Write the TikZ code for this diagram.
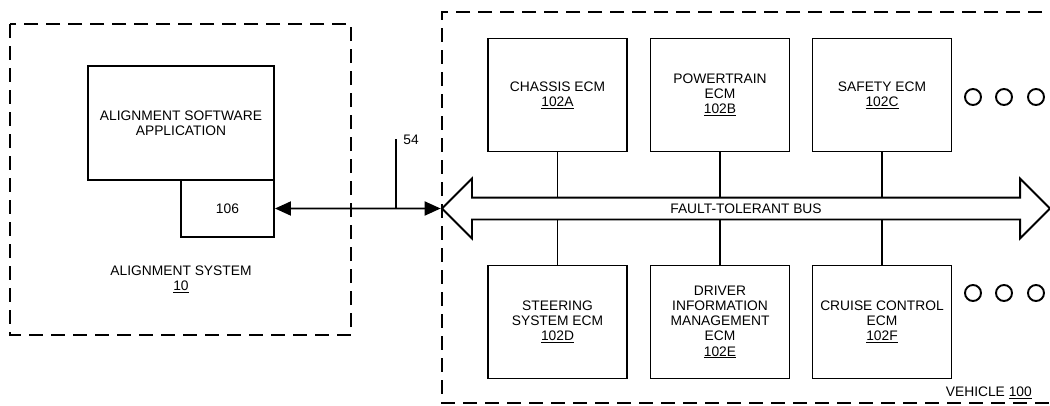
\documentclass[tikz,border=0pt]{standalone}
\usepackage{fontspec}
\setmainfont{Liberation Sans}
\usepackage{tikz}
\usetikzlibrary{arrows.meta,positioning,shapes.arrows}
\tikzset{
  % Base unit box. Patent drawing: black outline, nothing else.
  pat/box/.style={
    draw=black, fill=white, line width=1.9pt, align=center,
    font=\fontsize{13.8}{15.2}\selectfont, inner sep=2pt, text=black
  },
  % System boundary, dashed.
  pat/frame/.style={
    draw=black, line width=1.8pt, dash pattern=on 14pt off 8pt
  },
  % Plain solid stub between a unit and the bus.
  pat/link/.style={
    draw=black, line width=1.9pt
  },
  % Free text: reference numerals and system names.
  pat/label/.style={
    font=\fontsize{13.8}{15.2}\selectfont, text=black, inner sep=1pt, align=center
  },
}
\newcommand{\refnum}[1]{\underline{#1}}

\begin{document}
\begin{tikzpicture}[x=1pt, y=-1pt,
  ecm/.style={pat/box, minimum width=139pt, minimum height=113pt},
  app/.style={pat/box, minimum width=186pt, minimum height=114pt},
  port/.style={pat/box, minimum width=93pt, minimum height=57pt},
  dot/.style={draw=black, line width=1.9pt, circle, minimum size=16pt, inner sep=0pt},
  busarr/.style={pat/box, fill=none, double arrow, double arrow head extend=19pt,
                 minimum height=608pt, text height=9.5pt, text depth=0pt,
                 inner xsep=0pt, inner ysep=5.25pt},
  bi/.style={{Triangle[length=16pt,width=14pt]}-{Triangle[length=16pt,width=14pt]},
             draw=black, line width=1.9pt}]

\useasboundingbox (0,0) rectangle (1050,405);

\begin{scope}
  \draw[pat/frame] (10,24) rectangle (351,335);
  \node[app]  (app)  at (181,123)   {ALIGNMENT SOFTWARE\\APPLICATION};
  \node[port] (port) at (227.5,208.5) {106};
  \node[pat/label] (asys) at (181,279) {ALIGNMENT SYSTEM\\\refnum{10}};
\end{scope}

\begin{scope}
  \draw[pat/frame] (1064,12) -| (442,403) -- (1064,403);
  \node[busarr] (bus) at (746,208.5) {FAULT-TOLERANT BUS};
  \node[ecm] (cha) at (557.5,95)  {CHASSIS ECM\\\refnum{102A}};
  \node[ecm] (pwt) at (720,95)    {POWERTRAIN\\ECM\\\refnum{102B}};
  \node[ecm] (saf) at (882,95)    {SAFETY ECM\\\refnum{102C}};
  \node[ecm] (ste) at (557.5,322) {STEERING\\SYSTEM ECM\\\refnum{102D}};
  \node[ecm] (dri) at (720,322)   {DRIVER\\INFORMATION\\MANAGEMENT\\ECM\\\refnum{102E}};
  \node[ecm] (cru) at (882,322)   {CRUISE CONTROL\\ECM\\\refnum{102F}};
  \foreach \n in {cha,pwt,saf}{\draw[pat/link] (\n.south) -- (\n.south |- bus.north);}
  \foreach \n in {ste,dri,cru}{\draw[pat/link] (\n.north) -- (\n.north |- bus.south);}
  \foreach \i/\x in {1/973,2/1004,3/1036}{
    \node[dot] (mt\i) at (\x,97) {};
    \node[dot] (mb\i) at (\x,293) {};}
  \node[pat/label, anchor=east] (veh) at (1033,393) {VEHICLE \refnum{100}};
\end{scope}

\draw[bi] (port.east) -- (bus.west);
\coordinate (tk) at (396,139);
\draw[pat/link] (tk) -- (tk |- port.east);
\node[pat/label] (n54) at (411,140) {54};
\end{tikzpicture}
\end{document}
